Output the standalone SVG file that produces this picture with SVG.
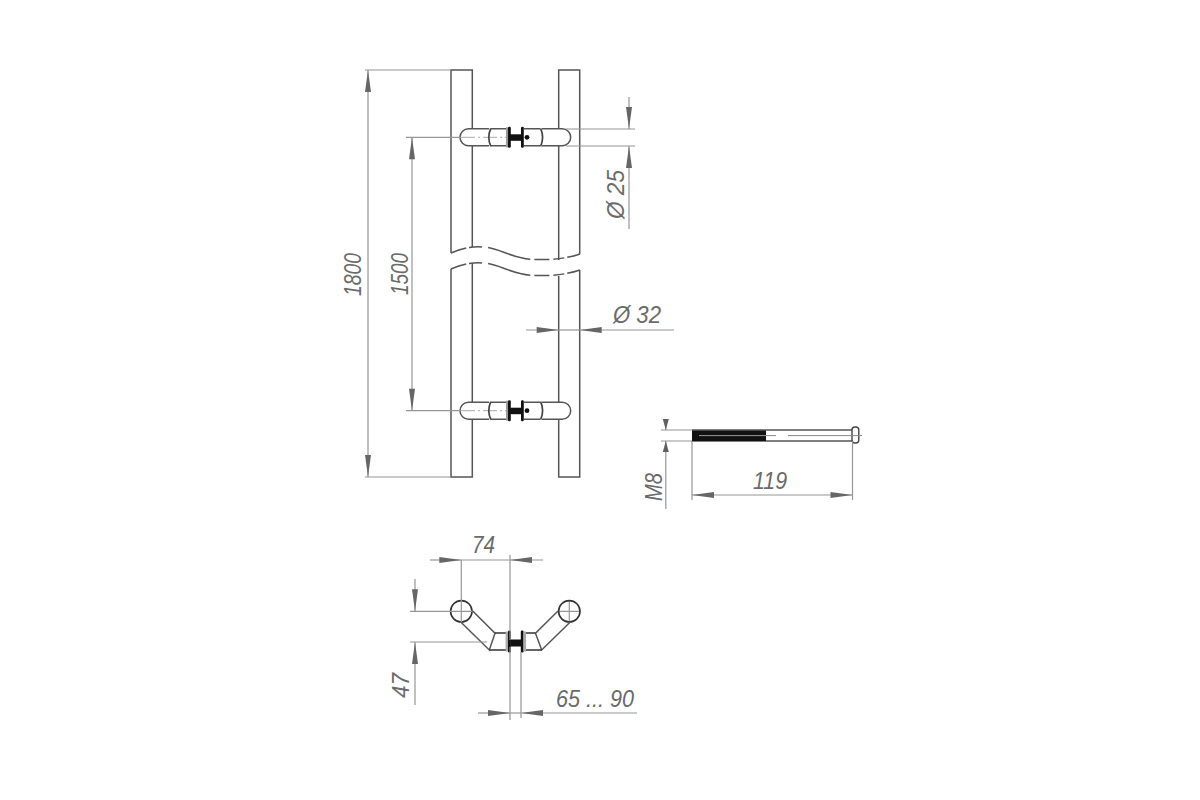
<svg xmlns="http://www.w3.org/2000/svg" xmlns:xlink="http://www.w3.org/1999/xlink" width="1200" height="800" viewBox="0 0 1200 800">
<style>
.part{fill:none;stroke:#555;stroke-width:1.5}
.thick{fill:none;stroke:#333;stroke-width:1.6}
.dim{fill:none;stroke:#969696;stroke-width:1.2}
.arr{marker-end:url(#a);marker-start:url(#a)}
.arrE{marker-end:url(#a)}
.ctr{fill:none;stroke:#aaa;stroke-width:1;stroke-dasharray:14 3 2 3}
text{font-family:"Liberation Sans",Arial,sans-serif;font-style:italic;font-size:24px;fill:#6a6a6a}
</style>
<defs>
<marker id="a" markerUnits="userSpaceOnUse" markerWidth="24" markerHeight="10" refX="22" refY="4" orient="auto-start-reverse" overflow="visible"><path d="M0 1L22 4L0 7Z" fill="#666"/></marker>
<marker id="s" markerUnits="userSpaceOnUse" markerWidth="12" markerHeight="10" refX="11" refY="4" orient="auto-start-reverse" overflow="visible"><path d="M0 1L11 4L0 7Z" fill="#606060"/></marker>
<g id="handle">
<path class="part" d="M489 -8.5H468.5A8.5 8.5 0 0 0 468.5 8.5H489M491 -8.5H507M524 -8.5H540M524 8.5H540M491 8.5H507M542 -8.5H562.2A8.5 8.5 0 0 1 562.2 8.5H542"/>
<path class="ctr" d="M461 0H507"/>
<path d="M490.8 -9Q486.8 0 490.8 9M540.6 -9Q544.6 0 540.6 9" fill="none" stroke="#444" stroke-width="1.7"/>
<rect x="506" y="-10" width="2.4" height="20" fill="#999"/>
<rect x="508" y="-10.5" width="2.8" height="21" rx="1.2" fill="#111"/>
<rect x="521" y="-10.5" width="2.8" height="21" rx="1.2" fill="#111"/>
<rect x="510" y="-3" width="11.5" height="6.5" fill="#111"/>
<circle cx="527" cy="0" r="2.4" fill="#111"/>
</g>
</defs>

<g id="door-handle-front">
<path class="part" d="M451 253V70H472.3V129M472.3 146V247M558.7 260V146M558.7 129V70H579.7V254M451 269V477H472.3V419M472.3 402V263M558.7 276V402M558.7 419V477H579.7V270"/>
<path class="part" stroke-dasharray="16 3 13 6 44 4 15 4 11 3 30" d="M451 253C460 249 470 246 483 247C500 248 512 259 535 259.5C550 260 565 259 580 254"/>
<path class="part" stroke-dasharray="16 3 13 6 44 4 15 4 11 3 30" d="M451 269C460 265 470 262 483 263C500 264 512 275 535 275.5C550 276 565 275 580 270"/>
<use xlink:href="#handle" href="#handle" transform="translate(0,137.3)"/>
<use xlink:href="#handle" href="#handle" transform="translate(0,410.7)"/>
</g>

<g id="bolt">
<path class="part" d="M692 430H852M692 441H852"/>
<rect x="692" y="430.5" width="74" height="10.5" fill="#111"/>
<path d="M699 435.6H766" stroke="#999" fill="none"/>
<rect x="852" y="427" width="6.8" height="16" rx="3" fill="#fff" stroke="#444" stroke-width="1.4"/>
<path d="M766 435.6H776M788 435.6H862" fill="none" stroke="#888"/>
</g>

<g id="door-handle-top">
<path class="dim" d="M558.6 611.3H580M569.3 600.6V622"/>
<circle cx="461.3" cy="611.3" r="10.7" class="thick"/>
<circle cx="569.3" cy="611.3" r="10.7" class="thick"/>
<path class="part" d="M472.7 611L495 633.3L489.3 650L461 622.3M558 611L535.5 633.3L541.7 650L570 622.3"/>
<path class="thick" d="M495 633H506M489.3 650H506M535.5 633H524M541.7 650H524"/>
<rect x="505.6" y="631.5" width="2.6" height="20" fill="#aaa"/>
<rect x="508" y="630.5" width="2.8" height="22" rx="1.2" fill="#111"/>
<rect x="520.8" y="630.5" width="2.8" height="22" rx="1.2" fill="#111"/>
<rect x="523.4" y="631.5" width="2.6" height="20" fill="#aaa"/>
<rect x="510.4" y="639.5" width="10.6" height="7" fill="#111"/>
</g>

<g id="dimensions">
<path class="dim" d="M365 70H451M365 477H451"/>
<path class="dim arr" d="M368 477V70"/>
<path class="dim" d="M406 137.3H461M406 410.7H461"/>
<path class="dim arr" d="M412 410.7V137.3"/>
<path class="dim" d="M566 129H635M566 146H635"/>
<path class="dim arrE" d="M629 97V129"/>
<path class="dim arrE" d="M629 229V146"/>
<path class="dim arrE" d="M526 330H558.7"/>
<path class="dim arrE" d="M674 330H579.7"/>
<path class="dim" d="M558.7 330H579.7"/>
<path class="dim" d="M661 430H692M661 441H692"/>
<path class="dim" d="M665.8 420V430" marker-end="url(#s)"/>
<path class="dim" d="M665.8 509V441" marker-end="url(#s)"/>
<path class="dim" d="M692 441V500M852.5 441V500"/>
<path class="dim arr" d="M692 495H852.5"/>
<path class="dim arrE" d="M430 560H461.3"/>
<path class="dim arrE" d="M543 560H510"/>
<path class="dim" d="M461.3 560V622M461.3 560H510M510 555V640M510 647V720M521 652V718"/>
<path class="dim" d="M410 611.3H472M410 642H487"/>
<path class="dim arrE" d="M415 579V611.3"/>
<path class="dim arrE" d="M415 705V642"/>
<path class="dim arrE" d="M478 713H510"/>
<path class="dim arrE" d="M637 713H521"/>
<path class="dim" d="M510 713H521"/>
</g>

<g id="labels">
<text transform="translate(361,296) rotate(-90)" textLength="43" lengthAdjust="spacingAndGlyphs">1800</text>
<text transform="translate(408,295) rotate(-90)" textLength="42" lengthAdjust="spacingAndGlyphs">1500</text>
<text transform="translate(624,219) rotate(-90)" textLength="49" lengthAdjust="spacingAndGlyphs">Ø 25</text>
<text x="613" y="323" textLength="48" lengthAdjust="spacingAndGlyphs">Ø 32</text>
<text transform="translate(662,501) rotate(-90)" textLength="28" lengthAdjust="spacingAndGlyphs">M8</text>
<text x="753" y="489" textLength="34" lengthAdjust="spacingAndGlyphs">119</text>
<text x="472" y="553" textLength="23" lengthAdjust="spacingAndGlyphs">74</text>
<text transform="translate(409,698) rotate(-90)" textLength="25" lengthAdjust="spacingAndGlyphs">47</text>
<text x="556" y="707" textLength="78" lengthAdjust="spacingAndGlyphs">65 ... 90</text>
</g>
</svg>
